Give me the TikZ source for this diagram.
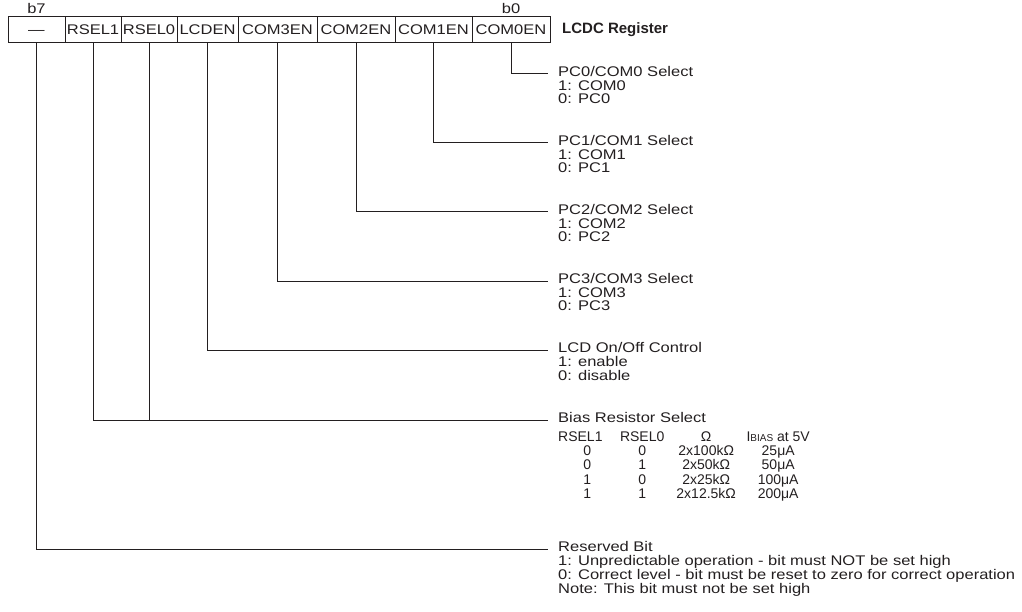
\documentclass[tikz,border=0pt]{standalone}
\usepackage{fontspec}
\setmainfont{Liberation Sans}[FakeStretch=1.18]
\newfontfamily\plainsans{Liberation Sans}
\usepackage{array}
\usetikzlibrary{positioning}
\definecolor{ink}{RGB}{35,31,32}
\newcolumntype{C}[1]{>{\centering\arraybackslash}p{#1}}
\newcommand{\bitdesc}[1]{\begin{tabular}[t]{@{}l@{}}#1\end{tabular}}

\begin{document}
\begin{tikzpicture}[x=1pt, y=-1pt, font=\fontsize{14}{13}\selectfont,
    cell/.style={rectangle, draw=ink, line width=1pt, outer sep=0pt, inner sep=0pt,
                 minimum height=26pt, text height=10pt, text depth=0pt, text=ink},
    lbl/.style={inner sep=0pt, text=ink},
    desc/.style={anchor=mid west, inner xsep=10pt, inner ysep=0pt, text=ink},
    wire/.style={draw=ink, line width=1pt}
]
\useasboundingbox (0,0) rectangle (1022,612);

% register cells, b7 ... b0
\node[cell, minimum width=57pt, anchor=north west] (c7) at (8,17) {—};
\node[cell, minimum width=56pt, right=0pt of c7] (c6) {RSEL1};
\node[cell, minimum width=56pt, right=0pt of c6] (c5) {RSEL0};
\node[cell, minimum width=61pt, right=0pt of c5] (c4) {LCDEN};
\node[cell, minimum width=79pt, right=0pt of c4] (c3) {COM3EN};
\node[cell, minimum width=78pt, right=0pt of c3] (c2) {COM2EN};
\node[cell, minimum width=77pt, right=0pt of c2] (c1) {COM1EN};
\node[cell, minimum width=78pt, right=0pt of c1] (c0) {COM0EN};
\node[lbl, above=3pt of c7] (b7) {b7};
\node[lbl, above=3pt of c0] (b0) {b0};
\node[lbl, right=12pt of c0, font=\plainsans\fontsize{15}{13}\selectfont\bfseries] (reg) {LCDC Register};

% bit descriptions
\node[desc] (d0) at (548,74) {\bitdesc{PC0/COM0 Select\\1: COM0\\0: PC0}};
\node[desc] (d1) at (548,143) {\bitdesc{PC1/COM1 Select\\1: COM1\\0: PC1}};
\node[desc] (d2) at (548,212) {\bitdesc{PC2/COM2 Select\\1: COM2\\0: PC2}};
\node[desc] (d3) at (548,281) {\bitdesc{PC3/COM3 Select\\1: COM3\\0: PC3}};
\node[desc] (d4) at (548,350) {\bitdesc{LCD On/Off Control\\1: enable\\0: disable}};
\node[desc] (d5) at (548,420) {Bias Resistor Select};
\node[lbl, anchor=base west, font=\plainsans\fontsize{14}{13}\selectfont] (tab) at (558,441) {\renewcommand{\arraystretch}{1.08}\setlength{\tabcolsep}{0pt}%
  \begin{tabular}[t]{@{}C{58pt}C{52pt}C{76pt}C{68pt}@{}}
    \multicolumn{1}{@{}l}{RSEL1} & RSEL0 & Ω & I{\fontsize{10}{10}\selectfont BIAS} at 5V\\
    0 & 0 & 2x100kΩ & 25μA\\
    0 & 1 & 2x50kΩ & 50μA\\
    1 & 0 & 2x25kΩ & 100μA\\
    1 & 1 & 2x12.5kΩ & 200μA
  \end{tabular}};
\node[desc] (d7) at (548,549) {\bitdesc{Reserved Bit\\
  1: Unpredictable operation - bit must NOT be set high\\
  0: Correct level - bit must be reset to zero for correct operation\\
  Note: This bit must not be set high}};

% connectors
\foreach \i in {0,...,4}
  \draw[wire] (c\i.south) |- (d\i.mid west);
\draw[wire] (c6.south) |- (d5.mid west);
\draw[wire] (c5.south) -- (c5.south |- d5.mid west);
\draw[wire] (c7.south) |- (d7.mid west);
\end{tikzpicture}
\end{document}
